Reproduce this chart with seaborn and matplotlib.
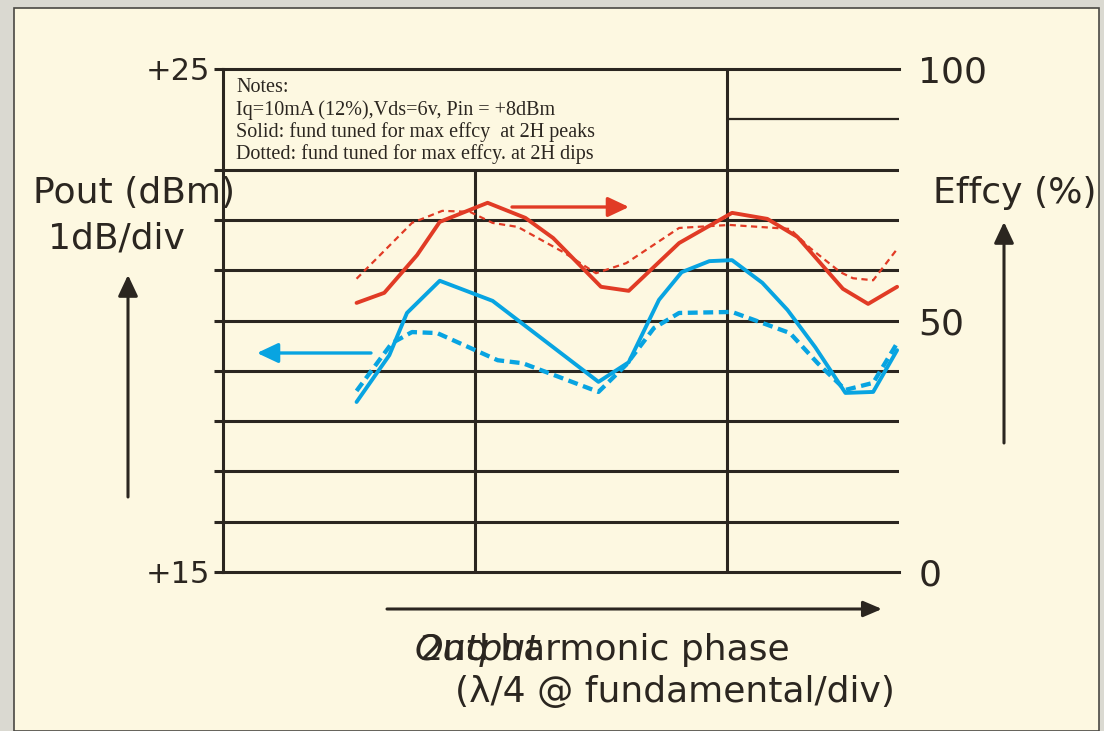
import matplotlib
matplotlib.use("Agg")
import matplotlib.pyplot as plt
import seaborn as sns
from matplotlib.patches import Rectangle

# ---------------- data ----------------
# x in lambda/4-at-fundamental divisions, Pout in dBm (left), efficiency in % (right)
eff_solid_x = [0.53, 0.64, 0.77, 0.86, 1.05, 1.20, 1.31, 1.50, 1.61, 1.81, 2.02, 2.16, 2.28, 2.46, 2.56, 2.675]
eff_solid_y = [53.5, 55.5, 63.0, 69.6, 73.4, 70.4, 66.4, 56.7, 55.9, 65.4, 71.4, 70.2, 66.6, 56.3, 53.3, 56.7]

eff_dot_x = [0.53, 0.75, 0.87, 0.98, 1.07, 1.17, 1.35, 1.48, 1.60, 1.81, 2.01, 2.25, 2.33, 2.45, 2.50, 2.58, 2.675]
eff_dot_y = [58.3, 69.4, 71.8, 71.6, 69.4, 68.6, 63.6, 59.4, 61.4, 68.4, 69.0, 68.2, 64.4, 59.6, 58.4, 58.0, 64.2]

pout_solid_x = [0.53, 0.66, 0.73, 0.86, 1.07, 1.49, 1.61, 1.73, 1.82, 1.93, 2.02, 2.14, 2.24, 2.35, 2.47, 2.58, 2.675]
pout_solid_y = [18.38, 19.31, 20.15, 20.79, 20.39, 18.78, 19.17, 20.41, 20.96, 21.18, 21.20, 20.75, 20.21, 19.47, 18.56, 18.58, 19.41]

pout_dash_x = [0.53, 0.67, 0.75, 0.85, 1.09, 1.19, 1.49, 1.60, 1.71, 1.81, 2.02, 2.13, 2.25, 2.36, 2.47, 2.58, 2.675]
pout_dash_y = [18.60, 19.55, 19.77, 19.75, 19.21, 19.15, 18.58, 19.12, 19.85, 20.15, 20.17, 19.97, 19.75, 19.15, 18.62, 18.76, 19.55]

left_ticks = [15, 16, 17, 18, 19, 20, 21, 22, 23, 25]
left_labels = ["+15", "", "", "", "", "", "", "", "", "+25"]
right_ticks = [0, 50, 100]
right_labels = ["0", "50", "100"]

notes = ["Notes:",
         "Iq=10mA (12%),Vds=6v, Pin = +8dBm",
         "Solid: fund tuned for max effcy  at 2H peaks",
         "Dotted: fund tuned for max effcy. at 2H dips"]

# ---------------- style ----------------
sns.set_style("white")
plt.rcParams["font.family"] = ["DejaVu Sans"]

W, H = 1104, 731
INK = "#2B2620"
RED = "#E13B25"
BLUE = "#08A4E1"
CREAM = "#FDF8E1"
GRAY = "#DAD9D1"

fig = plt.figure(figsize=(W / 100, H / 100), dpi=100, facecolor=GRAY)
fig.patches.append(Rectangle((14 / W, 0), (1099 - 14) / W, (H - 8) / H,
                             transform=fig.transFigure, facecolor=CREAM,
                             edgecolor="#4a4843", lw=1.2, zorder=-10))

def fx(px):
    return px / W

def fy(py):
    return 1 - py / H

ax_l, ax_r, ax_t, ax_b = 223, 899, 69, 572
ax = fig.add_axes([fx(ax_l), fy(ax_b), (ax_r - ax_l) / W, (ax_b - ax_t) / H])
ax.set_facecolor("none")
xmax = (ax_r - ax_l) / 252.0
ax.set_xlim(0, xmax)
ax.set_ylim(15, 25)

for s in ["left", "top", "bottom"]:
    ax.spines[s].set_color(INK)
    ax.spines[s].set_linewidth(2.2)
ax.spines["right"].set_visible(False)

ax.set_yticks(left_ticks)
ax.set_yticklabels(left_labels)
ax.tick_params(axis="y", direction="out", length=6.5, width=2.2, color=INK,
               labelsize=22, labelcolor=INK, pad=3)
ax.set_xticks([0, 1, 2])
ax.set_xticklabels([])
ax.tick_params(axis="x", direction="out", length=6, width=2.2, color=INK)

# grid
ax.hlines([16, 17, 18, 19, 20, 21, 22, 23], 0, xmax, color=INK, lw=2.2, zorder=1)
ax.hlines([24], 2, xmax, color=INK, lw=1.6, zorder=1)
ax.vlines([1], 15, 23, color=INK, lw=2.2, zorder=1)
ax.vlines([2], 15, 25, color=INK, lw=2.2, zorder=1)

# Pout curves (left axis)
sns.lineplot(x=pout_solid_x, y=pout_solid_y, ax=ax, color=BLUE, lw=2.8,
             estimator=None, sort=False, zorder=3)
sns.lineplot(x=pout_dash_x, y=pout_dash_y, ax=ax, color=BLUE, lw=3.1,
             linestyle=(0, (2.3, 1.3)), estimator=None, sort=False, zorder=3)

# Efficiency curves (right axis)
ax2 = ax.twinx()
ax2.set_ylim(0, 100)
for s in ax2.spines.values():
    s.set_visible(False)
ax2.set_yticks(right_ticks)
ax2.set_yticklabels(right_labels)
ax2.tick_params(axis="y", length=0, pad=14, labelsize=26, labelcolor=INK)
sns.lineplot(x=eff_solid_x, y=eff_solid_y, ax=ax2, color=RED, lw=2.8,
             estimator=None, sort=False, zorder=3)
sns.lineplot(x=eff_dot_x, y=eff_dot_y, ax=ax2, color=RED, lw=1.6,
             linestyle=(0, (2.8, 2.0)), estimator=None, sort=False, zorder=3)
ax.set_xlabel("")
ax.set_ylabel("")
ax2.set_ylabel("")

# notes box text
for i, line in enumerate(notes):
    fig.text(fx(236), fy(92 + i * 22.5), line, family="Liberation Serif",
             fontsize=14.5, color=INK, va="baseline", ha="left")

# axis titles
fig.text(fx(33), fy(203), "Pout (dBm)", fontsize=26, color=INK, va="baseline")
fig.text(fx(48), fy(249), "1dB/div", fontsize=26, color=INK, va="baseline")
fig.text(fx(933), fy(203), "Effcy (%)", fontsize=26, color=INK, va="baseline")
fig.text(fx(420), fy(660), "2nd harmonic phase", fontsize=26, color=INK, va="baseline")
fig.text(fx(415), fy(660), "Output", fontsize=26, style="italic", color=INK, va="baseline")
fig.text(fx(455), fy(702), "(\u03bb/4 @ fundamental/div)", fontsize=26, color=INK, va="baseline")

# arrows
def arrow(x0, y0, x1, y1, color, lw=2.2, hl=0.85, hw=0.4):
    ax.annotate("", xy=(fx(x1), fy(y1)), xytext=(fx(x0), fy(y0)),
                xycoords="figure fraction", textcoords="figure fraction",
                arrowprops=dict(arrowstyle=f"-|>,head_length={hl},head_width={hw}",
                                color=color, lw=lw, mutation_scale=15,
                                shrinkA=0, shrinkB=0), annotation_clip=False)

arrow(128, 497, 128, 275, INK)
arrow(1004, 443, 1004, 222, INK)
arrow(387, 609, 882, 609, INK, lw=2.2, hl=0.75, hw=0.32)
arrow(512, 207, 629, 207, RED, lw=2.4)
arrow(371, 353, 257, 353, BLUE, lw=2.4)

fig.savefig("out.png", dpi=100, facecolor=GRAY)
